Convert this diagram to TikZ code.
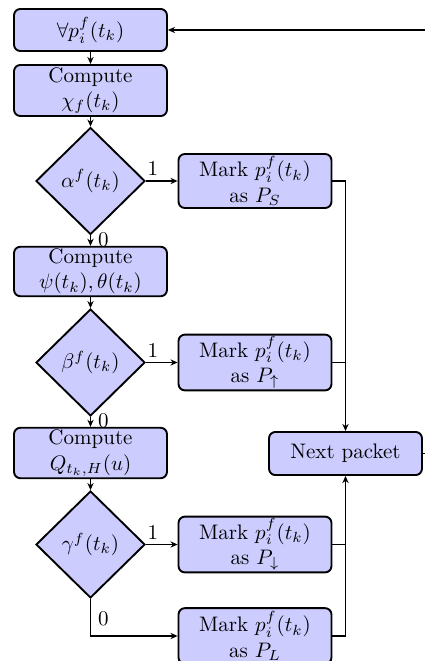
\documentclass[tikz,border=0pt]{standalone}
\usetikzlibrary{shapes.geometric,arrows.meta}
\begin{document}
\begin{tikzpicture}[x=0.476pt, y=-0.476pt,
  box/.style={draw, line width=0.9pt, fill=blue!20, rounded corners=3pt, minimum width=72.8pt, align=center, inner sep=1pt},
  dec/.style={draw, line width=0.9pt, fill=blue!20, diamond, minimum width=51.9pt, minimum height=50.9pt, inner sep=0pt},
  arr/.style={thick, -{Stealth[length=3.4pt,width=3pt]}},
  ln/.style={thick},
  lbl/.style={inner sep=0pt}]
\useasboundingbox (0,0) rectangle (425,661);
\clip (0,0) rectangle (425,661);

% process chain on the left
\node[box, minimum height=20pt]   (start) at (90.5,30)    {$\forall p_i^f(t_k)$};
\node[box, minimum height=24.3pt] (chi)   at (90.5,90.5)  {Compute\\$\chi_f(t_k)$};
\node[dec]                        (alpha) at (90.5,181)   {$\alpha^f(t_k)$};
\node[box, minimum height=23.5pt] (psi)   at (90.5,271.5) {Compute\\$\psi(t_k),\theta(t_k)$};
\node[dec]                        (beta)  at (90.5,362.5) {$\beta^f(t_k)$};
\node[box, minimum height=24pt]   (q)     at (90.5,453)   {Compute\\$Q_{t_k,H}(u)$};
\node[dec]                        (gamma) at (90.5,544.5) {$\gamma^f(t_k)$};

% marking boxes
\node[box, minimum height=25.7pt] (ps)    at (255,181)   {Mark $p_i^f(t_k)$\\as $P_S$};
\node[box, minimum height=26.5pt] (pup)   at (255,362.5) {Mark $p_i^f(t_k)$\\as $P_\uparrow$};
\node[box, minimum height=26.5pt] (pdown) at (255,544.5) {Mark $p_i^f(t_k)$\\as $P_\downarrow$};
\node[box, minimum height=26.5pt] (pl)    at (255,636)   {Mark $p_i^f(t_k)$\\as $P_L$};

\node[box, minimum height=20.5pt] (next)  at (345.5,453.5) {Next packet};

% main flow
\draw[arr] (start) -- (chi);
\draw[arr] (chi) -- (alpha);
\draw[arr] (alpha) -- (ps);
\draw[arr] (alpha) -- (psi);
\draw[arr] (psi) -- (beta);
\draw[arr] (beta) -- (pup);
\draw[arr] (beta) -- (q);
\draw[arr] (q) -- (gamma);
\draw[arr] (gamma) -- (pdown);
\draw[arr] (gamma.south) |- (pl.west);

% collecting into the next packet
\draw[arr] (ps.east) -| (next.north);
\draw[ln]  (pup.east) -- (pup.east -| next.north);
\draw[ln]  (pdown.east) -- (pdown.east -| next.south);
\draw[arr] (pl.east) -| (next.south);
\draw[arr] (next.east) -- ++(12,0) |- (start.east);

% branch labels
\node[lbl] at (153,168)     {1};
\node[lbl] at (103.5,240)   {0};
\node[lbl] at (153,350)     {1};
\node[lbl] at (103.5,421)   {0};
\node[lbl] at (153,532.5)   {1};
\node[lbl] at (103.5,618.5) {0};
\end{tikzpicture}
\end{document}
